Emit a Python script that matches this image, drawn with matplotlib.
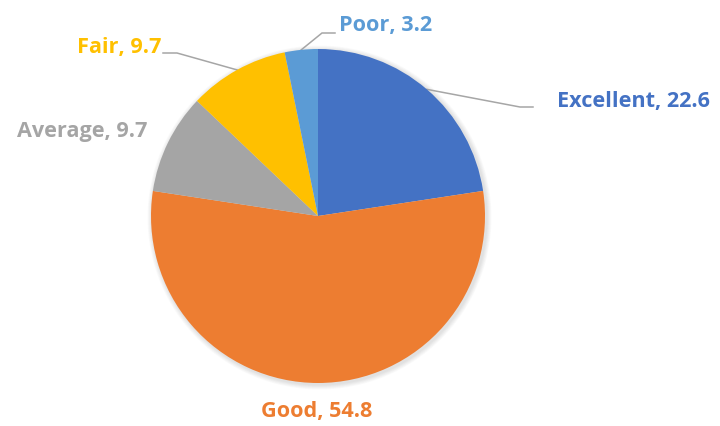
import numpy as np
import matplotlib
matplotlib.use("Agg")
import matplotlib.pyplot as plt
from matplotlib.patches import Circle

labels = ["Excellent", "Good", "Average", "Fair", "Poor"]
values = [22.6, 54.8, 9.7, 9.7, 3.2]
colors = ["#4472C4", "#ED7D31", "#A5A5A5", "#FFC000", "#5B9BD5"]

W, H = 720, 426
fig = plt.figure(figsize=(7.2, 4.26), dpi=100)
ax = fig.add_axes([0, 0, 1, 1])

cx, cy, r = 318, H - 216, 167

# soft shadow under the pie
for k in range(6):
    ax.add_patch(Circle((cx + 1.5, cy - 1.5), r + 1 + k * 0.8, color="black",
                        alpha=0.018, lw=0, zorder=0))

wedges, _ = ax.pie(values, colors=colors, startangle=90, counterclock=False,
                   center=(cx, cy), radius=r, frame=True,
                   wedgeprops=dict(linewidth=0))
ax.set_xlim(0, W)
ax.set_ylim(0, H)
ax.set_aspect("equal")
ax.axis("off")

font = dict(family=["Open Sans", "DejaVu Sans"], fontweight="bold", fontsize=15.6)

# label anchors (pixels, y from top)
label_pos = {
    "Excellent": (557, 102, "left"),
    "Good": (317, 412, "center"),
    "Average": (147, 131, "right"),
    "Fair": (161, 47, "right"),
    "Poor": (339, 25, "left"),
}
leaders = {"Excellent": (520, 107, 533), "Fair": (177, 53, 163), "Poor": (322, 33, 335)}

for w, name, v, c in zip(wedges, labels, values, colors):
    x, y, ha = label_pos[name]
    ax.text(x, H - y, f"{name}, {v}", color=c, ha=ha, va="center", **font)
    if name in leaders:
        mid = np.deg2rad((w.theta1 + w.theta2) / 2)
        ex, ey = cx + r * np.cos(mid), cy + r * np.sin(mid)
        kx, ky, tx = leaders[name]
        ax.plot([ex, kx, tx], [ey, H - ky, H - ky], color="#A6A6A6", lw=1.1,
                solid_joinstyle="miter", zorder=0.5)

fig.savefig("out.png", dpi=100, facecolor="white")
